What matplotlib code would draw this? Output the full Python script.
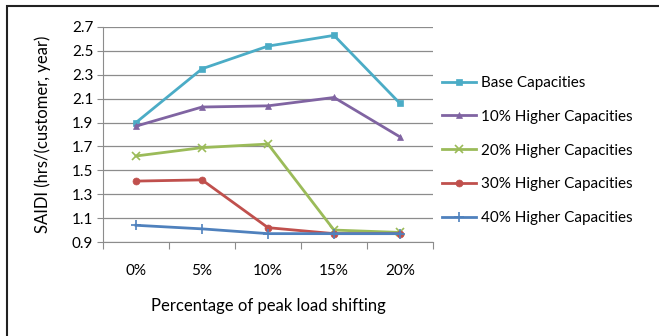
import matplotlib
matplotlib.use("Agg")
import matplotlib.pyplot as plt
from matplotlib.patches import Rectangle

# data
shift_labels = ["0%", "5%", "10%", "15%", "20%"]
base_cap = [1.90, 2.35, 2.54, 2.63, 2.06]
higher_10 = [1.87, 2.03, 2.04, 2.11, 1.78]
higher_20 = [1.62, 1.69, 1.72, 1.00, 0.98]
higher_30 = [1.41, 1.42, 1.02, 0.97, 0.97]
higher_40 = [1.04, 1.01, 0.97, 0.97, 0.97]
series_names = ["Base Capacities", "10% Higher Capacities", "20% Higher Capacities",
                "30% Higher Capacities", "40% Higher Capacities"]
y_ticks = [0.9, 1.1, 1.3, 1.5, 1.7, 1.9, 2.1, 2.3, 2.5, 2.7]

plt.rcParams['font.family'] = ['Lato', 'DejaVu Sans']

fig = plt.figure(figsize=(6.59, 3.36), dpi=100)
fig.patches.append(Rectangle((7/659, -0.1), 1.1, 1 - 6/336 + 0.1, transform=fig.transFigure,
                             fill=False, edgecolor='#222222', linewidth=1.5))
ax = fig.add_axes([103/659, 1 - 242/336, 330/659, 215/336])

xs = [i + 0.5 for i in range(len(shift_labels))]
styles = [
    (base_cap, '#4BACC6', 's', 5),
    (higher_10, '#8064A2', '^', 5),
    (higher_20, '#9BBB59', 'x', 6),
    (higher_30, '#C0504D', 'o', 5),
    (higher_40, '#4F81BD', '+', 7),
]
for (vals, col, mk, ms), name in zip(styles, series_names):
    ax.plot(xs, vals, color=col, marker=mk, markersize=ms, linewidth=2,
            markeredgewidth=1.2 if mk in 'x+' else 0.5, label=name)

ax.set_xlim(0, 5)
ax.set_ylim(0.9, 2.7)
ax.set_yticks(y_ticks)
ax.set_yticklabels([f"{v:.1f}" for v in y_ticks], fontsize=11)
ax.yaxis.grid(True, color='#8c8c8c', linewidth=0.9)
ax.set_axisbelow(True)

ax.set_xticks(range(6))
ax.set_xticklabels([])
ax.set_xticks(xs, minor=True)
ax.set_xticklabels(shift_labels, minor=True, fontsize=11)
ax.tick_params(axis='x', which='minor', length=0, pad=16)
ax.tick_params(axis='x', which='major', length=5, color='#8c8c8c', direction='out')
ax.tick_params(axis='y', length=4, color='#8c8c8c', pad=3)

for s in ['top', 'right']:
    ax.spines[s].set_visible(False)
for s in ['left', 'bottom']:
    ax.spines[s].set_color('#8c8c8c')

ax.set_ylabel("SAIDI (hrs/(customer, year)", fontsize=12, labelpad=15)
ax.set_xlabel("Percentage of peak load shifting", fontsize=12, labelpad=14)

ax.legend(loc='center left', bbox_to_anchor=(1.01, 0.425), frameon=False, fontsize=11,
          handlelength=2.2, handletextpad=0.3, labelspacing=1.3, borderaxespad=0)

fig.savefig("out.png", dpi=100)
